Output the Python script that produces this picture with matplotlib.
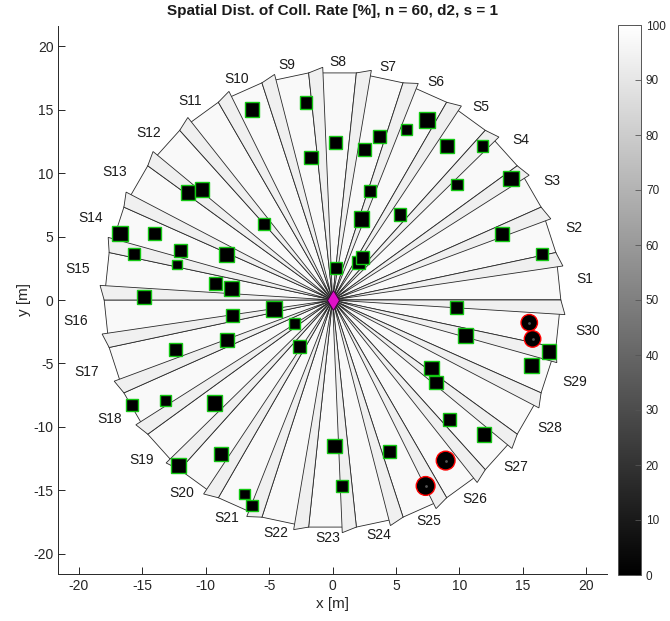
import numpy as np
import matplotlib
matplotlib.use("Agg")
import matplotlib.pyplot as plt
from matplotlib.patches import Polygon, Rectangle, Circle
from matplotlib import colors, cm

plt.rcParams["font.family"] = ["Liberation Sans", "DejaVu Sans"]
plt.rcParams["axes.unicode_minus"] = False

# sector geometry
n_sectors = 30
sector_step = 12.0      # deg
strip_step = 3.6        # deg
r_sector = 18.0
r_tip = 18.36
r_lim = 1.2 * r_sector

sector_labels = ["S1", "S2", "S3", "S4", "S5", "S6", "S7", "S8", "S9", "S10",
                 "S11", "S12", "S13", "S14", "S15", "S16", "S17", "S18", "S19", "S20",
                 "S21", "S22", "S23", "S24", "S25", "S26", "S27", "S28", "S29", "S30"]

# collision-free rate per sector [%] and edge strip value
sector_rate = [97.5, 97.5, 97.5, 97.5, 97.5, 97.5, 97.5, 97.5, 97.5, 97.5,
               97.5, 97.5, 97.5, 97.5, 97.5, 97.5, 97.5, 97.5, 97.5, 97.5,
               97.5, 97.5, 97.5, 97.5, 97.5, 97.5, 97.5, 97.5, 97.5, 97.5]
strip_rate = [94.0, 94.0, 94.0, 94.0, 94.0, 94.0, 94.0, 94.0, 94.0, 94.0,
              94.0, 94.0, 94.0, 94.0, 94.0, 94.0, 94.0, 94.0, 94.0, 94.0,
              94.0, 94.0, 94.0, 94.0, 94.0, 94.0, 94.0, 94.0, 94.0, 94.0]

# objects without collision
ok_x = [-6.34, -2.09, 0.25, -1.67, -11.39, -10.28, -5.37, -16.75, -14.04, -15.64,
        -11.99, -12.25, -8.34, -9.21, -7.97, -14.86, -4.59, 0.30, 2.30, 2.06,
        2.37, 3.71, 2.53, 5.82, 7.47, 9.02, 11.83, 14.07, 9.81, 2.98,
        5.32, 13.38, 16.51, 9.76, 17.08, 15.67, 10.49, 7.81, 8.18, 9.20,
        11.94, 4.50, 0.75, 0.15, -7.87, -2.99, -8.31, -12.36, -2.59, -15.80,
        -13.18, -9.31, -12.13, -8.82, -6.93, -6.34]
ok_y = [15.03, 15.55, 12.40, 11.24, 8.49, 8.72, 5.96, 5.23, 5.25, 3.62,
        3.89, 2.81, 3.60, 1.31, 0.89, 0.21, -0.73, 2.50, 6.40, 2.94,
        3.36, 12.90, 11.87, 13.47, 14.21, 12.14, 12.14, 9.59, 9.09, 8.59,
        6.72, 5.20, 3.65, -0.58, -4.07, -5.17, -2.81, -5.38, -6.51, -9.40,
        -10.59, -11.95, -14.66, -11.53, -1.23, -1.87, -3.15, -3.89, -3.68, -8.25,
        -7.93, -8.12, -13.05, -12.16, -15.29, -16.23]
ok_size = [1.14, 1.01, 1.01, 1.09, 1.14, 1.14, 0.96, 1.22, 1.01, 0.96,
           1.01, 0.75, 1.22, 1.01, 1.22, 1.09, 1.27, 0.96, 1.22, 1.01,
           1.01, 1.01, 1.01, 0.88, 1.27, 1.09, 0.93, 1.22, 0.88, 0.93,
           1.01, 1.14, 0.96, 1.01, 1.14, 1.14, 1.14, 1.14, 1.09, 1.01,
           1.14, 1.01, 1.01, 1.14, 1.01, 0.88, 1.06, 1.06, 1.01, 0.96,
           0.88, 1.22, 1.14, 1.09, 0.83, 0.88]

# objects with collision
hit_x = [15.51, 15.77, 8.92, 7.34]
hit_y = [-1.79, -3.07, -12.66, -14.66]
hit_size = [1.30, 1.30, 1.48, 1.48]

cmap = plt.get_cmap("gray")
norm = colors.Normalize(vmin=0, vmax=100)
edge_col = "#2a2a2a"

fig = plt.figure(figsize=(6.7, 6.21), dpi=100)
ax = fig.add_axes([58 / 670, 47 / 621, 549 / 670, 548 / 621])
cax = fig.add_axes([618 / 670, 46 / 621, 23 / 670, 550 / 621])


def pol(r, deg):
    t = np.deg2rad(deg)
    return (r * np.cos(t), r * np.sin(t))


for k in range(n_sectors):
    a = k * sector_step
    b = a + sector_step
    ax.add_patch(Polygon([(0, 0), pol(r_sector, a), pol(r_sector, b)], closed=True,
                         facecolor=cmap(norm(sector_rate[k])), edgecolor=edge_col,
                         linewidth=0.6, zorder=1))
for k in range(n_sectors):
    b = (k + 1) * sector_step
    ax.add_patch(Polygon([(0, 0), pol(r_sector, b), pol(r_tip, b - strip_step)], closed=True,
                         facecolor=cmap(norm(strip_rate[k])), edgecolor=edge_col,
                         linewidth=0.6, zorder=2))

# sector labels
for k, lab in enumerate(sector_labels):
    th = (k + 0.5) * sector_step - 1.2
    c, s = np.cos(np.deg2rad(th)), np.sin(np.deg2rad(th))
    r0 = 18.4 + 0.9 * c ** 2
    hw = 0.33 * len(lab)
    ax.text(r0 * c + hw * c, r0 * s + 0.4 * s, lab, ha="center", va="center",
            fontsize=10, color="#1a1a1a", zorder=5)

for x, y, w in zip(ok_x, ok_y, ok_size):
    ax.add_patch(Rectangle((x - w / 2, y - w / 2), w, w, facecolor="black",
                           edgecolor="#12c812", linewidth=1.0, zorder=3))
for x, y, w in zip(hit_x, hit_y, hit_size):
    ax.add_patch(Circle((x, y), w / 2, facecolor="black", edgecolor="#ff0000",
                        linewidth=1.0, zorder=3))
ax.plot(hit_x, hit_y, ".", color="#555555", ms=2, zorder=4)

ax.plot(0, 0, marker="d", ms=10.5, mfc="#e010c8", mec="#3a003a", mew=0.7, zorder=6)

ax.set_xlim(-r_lim, r_lim)
ax.set_ylim(-r_lim, r_lim)
ax.set_aspect("equal")
ax.set_xticks(range(-20, 21, 5))
ax.set_yticks(range(-20, 21, 5))
for sp in ["top", "right"]:
    ax.spines[sp].set_visible(False)
for sp in ["left", "bottom"]:
    ax.spines[sp].set_color("#262626")
    ax.spines[sp].set_linewidth(0.7)
ax.tick_params(direction="in", length=5, width=0.7, color="#262626",
               labelsize=10, labelcolor="#262626")
ax.set_xlabel("x [m]", fontsize=11, color="#262626", labelpad=3)
ax.set_ylabel("y [m]", fontsize=11, color="#262626", labelpad=2)
ax.set_title("Spatial Dist. of Coll. Rate [%], n = 60, d2, s = 1",
             fontsize=11, fontweight="bold", color="#1a1a1a", pad=8)

sm = cm.ScalarMappable(norm=norm, cmap=cmap)
cb = fig.colorbar(sm, cax=cax, ticks=range(0, 101, 10))
cb.outline.set_edgecolor("#555555")
cb.outline.set_linewidth(0.7)
cax.tick_params(direction="in", length=4, width=0.6, color="#555555",
                labelsize=8.5, labelcolor="#262626")

fig.savefig("out.png", dpi=100)
